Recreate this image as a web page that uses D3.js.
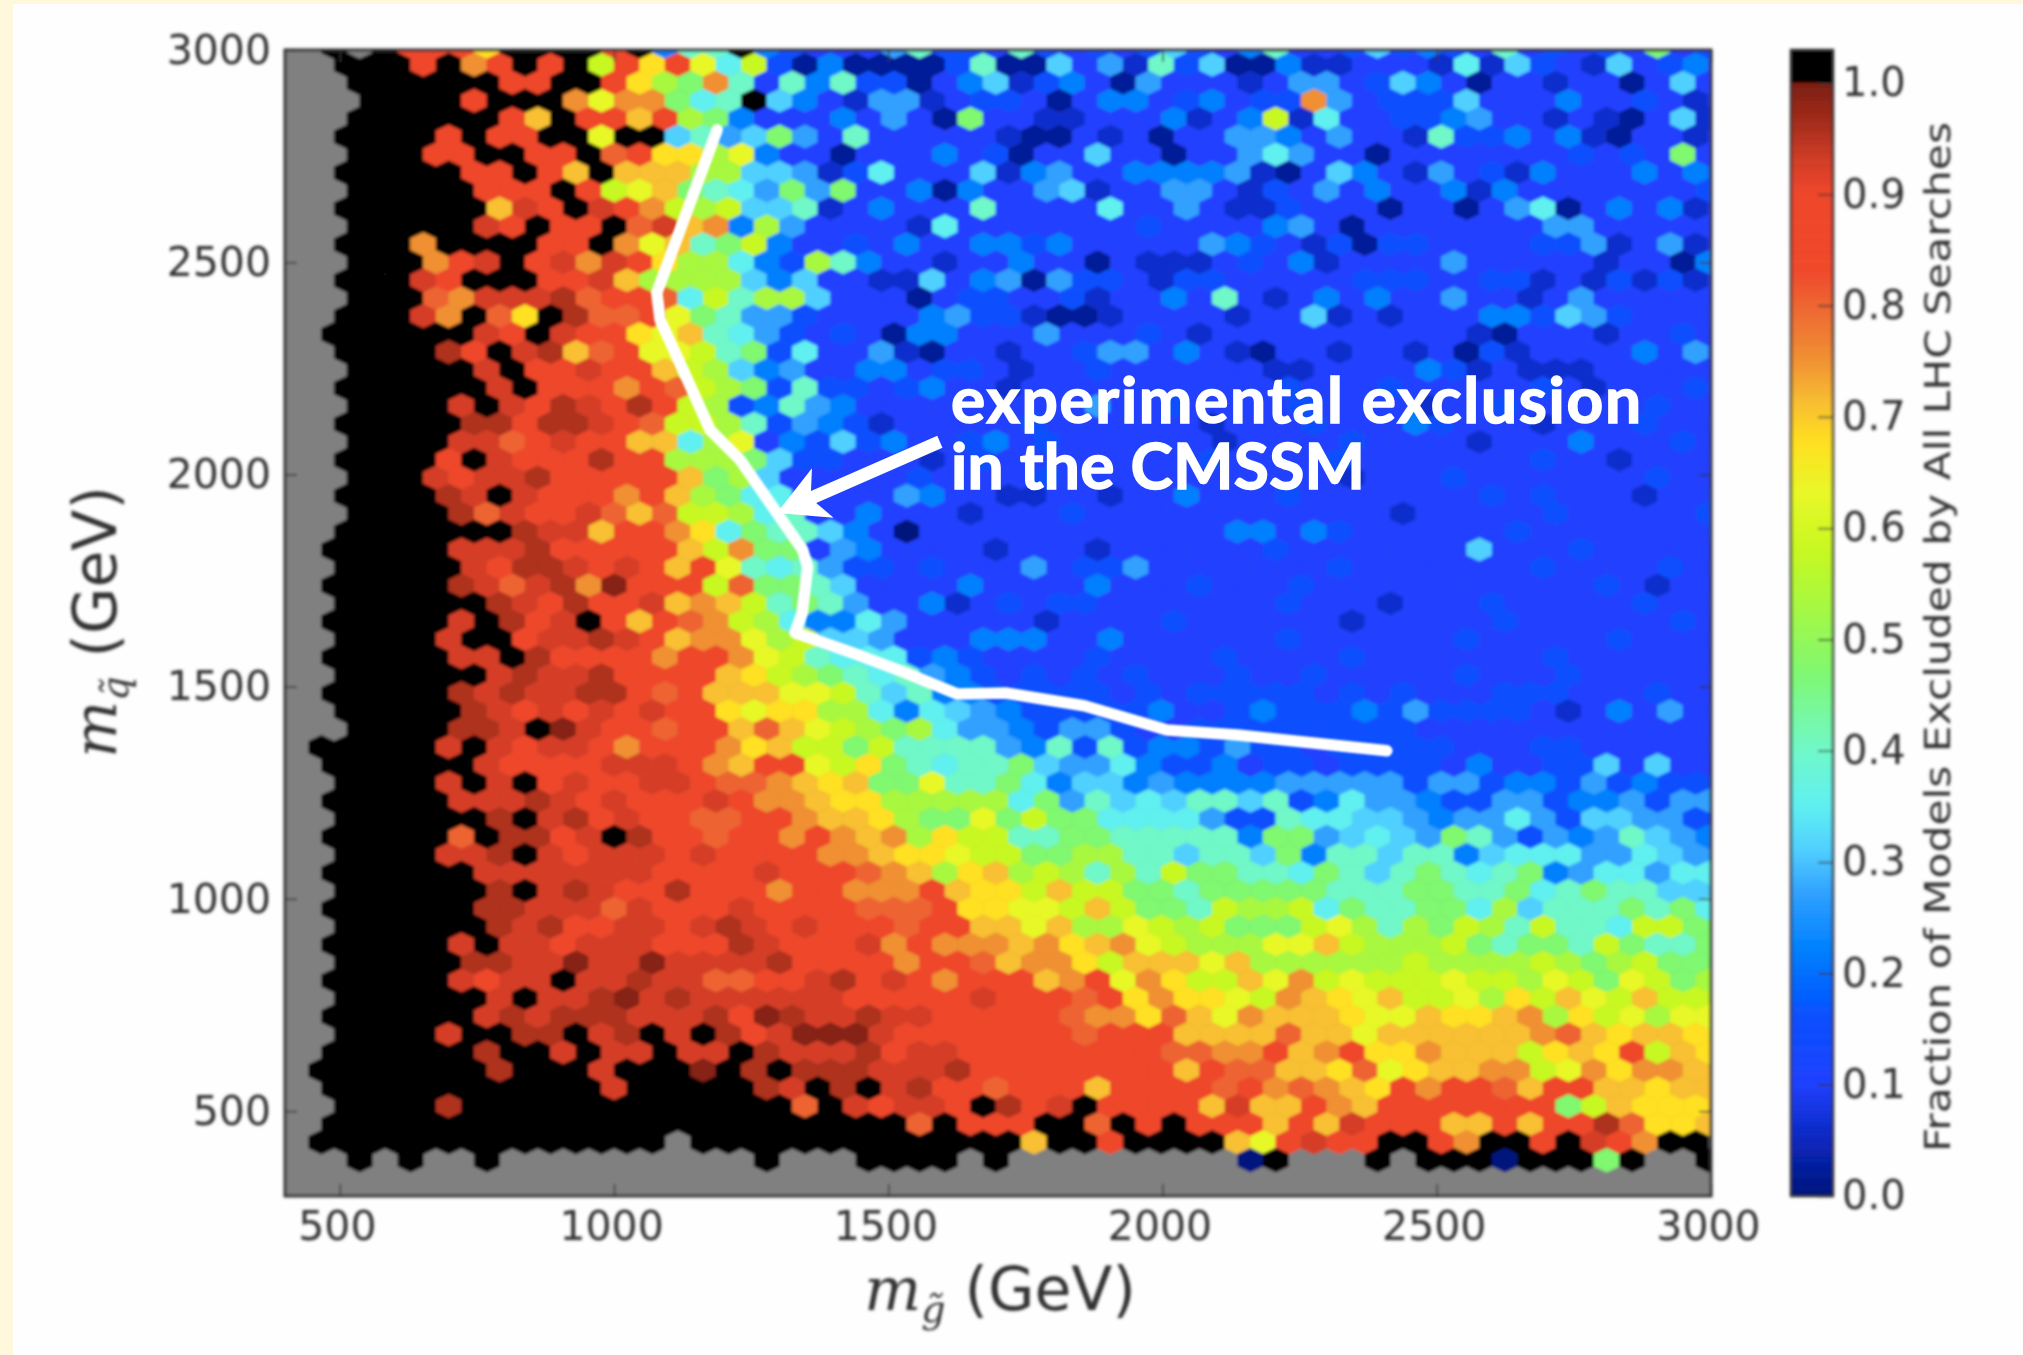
<!DOCTYPE html>
<html>
<head>
<meta charset="utf-8">
<script src="https://d3js.org/d3.v7.min.js"></script>
<style>
  html, body { margin: 0; padding: 0; background: #fefefe; }
  svg { display: block; }
  .tick text { font-family: "DejaVu Sans", sans-serif; fill: #333; }
  .tick line { stroke: #333; stroke-width: 1.5; }
</style>
</head>
<body>
<svg id="chart" width="2023" height="1355"></svg>
<script>
// ======== data
const xTicks = [500, 1000, 1500, 2000, 2500, 3000];
const yTicks = [500, 1000, 1500, 2000, 2500, 3000];
const colorTicks = [0, 0.1, 0.2, 0.3, 0.4, 0.5, 0.6, 0.7, 0.8, 0.9, 1.0];

// one letter per hexagon: "." is an empty bin, "#" is above the top of the colour bar
const levelKeys = ["a", "b", "B", "c", "d", "e", "f", "g", "h", "i", "j", "k", "l", "m", "n", "o", "p", "q", "r", "s", "t", "u", "#"];
const levelValues = [0.0, 0.02, 0.06, 0.10, 0.16, 0.22, 0.27, 0.31, 0.35, 0.40, 0.47, 0.53, 0.58, 0.63, 0.675, 0.71, 0.75, 0.80, 0.87, 0.925, 0.955, 0.99, 1.1];

// rows run from the top of the plot down, in groups of 19 bins
const hexRows = [
  "..#.#rrrn####r#eii# edcccfiddcidcdcdgdc eiccdgdedcicdcdcjcd",
  "..###r#pr#r#lrnrmhl dbebbbbdibbgcfBidgb beBBcccBhBgdcBgcdec",
  "...######rr##rnkjpi cieiddbcegBdecbfccc BcffcdgecbccBccbcgc",
  "...####r###pmppjhi# gecBffBcddcbceecdec ddpfcdddgccceccdcBc",
  "...######ro#rrorkje cccecfcbjccBBccceBc elBhccddefccBcBbcgB",
  "..####r#rr##m##gifg jfcicccccBbbcBcbccf fecfccBiddeceBbccBc",
  "...###rr##rr#qrnnkm eccbcccecdbccgccbcc fhfccbcccccccdcdcjc",
  "..#####rr#ro#oookkg gfBdhcccgBefcceeeef BbcgecBfcdBeccceced",
  "...#####rrr#rlmojih fjfjccebeccfgBccffc BdcfcecceBecccccccd",
  "..######osr#srplklg giBcecccicccchccfcB BdcccbccbcfhbceceBc",
  "...#####sr#rr#qsope kfccccBhcccccccdccc cefcbcccccccffccccc",
  "..###p####rr#pmoijl eccdcecceedecccccfe dcBdbddccccddfBcfBc",
  "...###prs#rspsrnkkh edkieccBcceccbcBBBc dceBccccfcccccBccbe",
  "..###sr###rrsokkkkg egccBBgcefbfddcBddc ccccdddccddBcBdBdBc",
  "...###qpssstqrrqhli kkgcccbcddccdBcceci cBcececcfccBcfccccc",
  "..###sp#qn#tqqrmjif fdccccefddBbbBccccB ccgBcBccceedgfdcccc",
  "..######sr#srrnmoih fdcdcbeecccfcccdcBc cccccccccBbcccBccdc",
  "..####tr#stoqrmmlij dhccfBbccBccdffcecB bccBccBcbdBccccecfc",
  "...#####s#rrsrrolkg efcceecddcBccdccccc cBBccccedBcBBBccccc",
  "..######s#rrrprqlkj diddcdeccBccccccccc cdcccdcccccdcBcccdc",
  "...####s#srtsrtrlkd eifecccccccccfccdcc ccdccccBccdcccccdcc",
  "..#####ttrttsrqllki dfedBcccccdccccccBc ccdcccedcccBcccdccc",
  "...####ssqrsrroohkm cedgdeccdecdccccccB ccccdccccBcccecccdc",
  "..####r#srrrtrrkkkj gddcccBcdccccccccdc cccdcccccccdccBcccc",
  "...###srsstrrrrrojk gcccccdccccdccccccc ccccBcccdcccccccdcc",
  "..####ts#srrrprokjh hccccfeccBBccBccecc cdcccccccdcdcccBccd",
  "...####tqsrrsqoqllk hiccecccBcccdcccccc ccccccBcccccdcccccd",
  "..#######tssorrpnhj iigecacccccccccccce ecedccccccdcccccccd",
  "..#####ssstrrrrrolp jjcfeccccBcccBccccc cdcccccccgcccdccccc",
  "..#####srttsrsrormi hifddcdcccfcddfcccc cccdcccccccdccccdcc",
  "..#####tsqstpurrrlq jjigcccceccccecccdc ccdcccccccccccdcBcc",
  "..######tsrtrrsopol ijifcceBcdcddcccccc cdcccBcccdcccccdccc",
  "..#####s#trs#rorqpl kheehfcccccBccccdcc ccccBcccccdccccccdc",
  "..####s##rsstsroppm klggfccceeecceccccc cdccccccdcccccdcccc",
  "..#####ss#trrrrprrp mlihhhdedccccdccccd ccccdcccccccdcccccc",
  "..######stsstrrrron lkjihifedcdcdcdcccd ccdcccccdcccdcccccc",
  "..#####tstssttrqroo ommligieedddddcdcdd dddcdcdcccdddcccdcc",
  "..#####tsrsrsrsrrnm nnkkhehgfedddddeccd edddedfddddcBcecfcc",
  "...####tts#usrrqrro qomlkjkhffedffdccdd dddddddcccccccccccc",
  ".#####s#srssrprrrpn olljliiiifeidideedf ddcdddddcccddcccccc",
  "..######srrrrsssrpo rrmlnjihiijgffhedde cddcddddceccddgcgcc",
  "..####s#s#rsrrssrqq ponojjmiijheggefeee efffffdffdeedfdeddd",
  "..#####ssstsrsrrrsr pponnkkkkkhjfighgii gidehffeddffdeefdff",
  "..######t#strsrrqqr rpoonkjjmjljjhhhhfd dihhggfeffhfdggffdd",
  "..#####q#ttrs#trrqr rprpopknlliijjiiiii ejjfghgfjifdfefigfe",
  "..####sst#srsssrsrr rrpponnmlljjkkiigii gjeiigiieghhhffhgff",
  "..######sssssssrrrr srrrqpoknoklkikiljj iihjigijihijefhhfhh",
  "..######t#stsrrtrrr prrpppronnlolljjijj jjjiiijjiijhijiiggg",
  "..######ttsssqsrrrs rrrrqqqrnnmmloljjil kklhjiijjhkgiiijijh",
  "..######tstrrssrsts rsrrrqrroomokkmlklj jjlmkikjlkiliihlljj",
  "..#####s#ssrsssrrrt srrrsprpppopnopmlkk kmmolkkkljijjiljiij",
  "..#####ttssussussss trrrrprrqoppnlooomo kkkkkklkkkklkjkljjj",
  "..#####srss#sstssqq rrstrsrprrroprmpnll omplmlllmllkmljmljk",
  "..######s#sstustsss sssrrrrrsrrrqrnpnnm lponmollmknlomlolll",
  "..######ststttssstr utsstssrrrrrqppnqom pooonmmonnopknlmkmm",
  "..####s##tt#st#s#tr suuusrrrrrrrqrrrooo oqoomoooooopqonoonm",
  "..######t##s#ss#ss# tssstrssrrrrrrrrqqp proprnnpooolnonrlon",
  ".#######t###s###u#t #tttssstrrrrrrrrorq qoonqmnoopplmpnppoo",
  "..###########s##### ts#t#strrqrrrorrrrq rpqponrprrqorroonoo",
  "..####t############ #q#srssr#trs#rrrros oorporrrrrrrjlonnno",
  "..################# ######q#rrr##q#r#rr rorosrrroororrtqnno",
  ".##############.### ##########o##r####o mrsrr##rp##r#srp##.",
  "...#.#..#.......... #...####.#......... a#...#.###a###j#..#"
];

// colour stops
const colorStopValues = [0, 0.05, 0.10, 0.16, 0.22, 0.27, 0.31, 0.35, 0.40, 0.47, 0.53, 0.58, 0.63, 0.675, 0.71, 0.75, 0.80, 0.83, 0.90, 0.93, 0.96, 1.0];
const colorStops = ["#00147d", "#0a28c0", "#2040ff", "#0850ff", "#0080ff", "#30a0ff", "#50d0ff", "#60f0f0", "#70f8c8", "#80f870", "#a8f840", "#c8f820", "#e8f828", "#ffe020", "#f8c030", "#f09030", "#ee6430", "#f0482c", "#ee462c", "#d03c26", "#a82e1c", "#7a1c10"];

// the white curve, in GeV
const exclusionX = [1188, 1078, 1084, 1126, 1175, 1230, 1297, 1344, 1353, 1343, 1330, 1436, 1527, 1625, 1714, 1857, 2008, 2137, 2409];
const exclusionY = [2812, 2428, 2364, 2246, 2105, 2034, 1909, 1822, 1782, 1674, 1627, 1579, 1535, 1483, 1485, 1455, 1398, 1386, 1349];
const arrowFrom = [1594, 2077];
const arrowTo = [1297, 1909];
const noteLines = ["experimental exclusion", "in the CMSSM"];
const noteWidths = [690, 414];

// ======== layout
const plot = { left: 285, right: 1711, top: 50, bottom: 1196 };
const bar = { left: 1791, right: 1833 };

const x = d3.scaleLinear().domain([400, 3000]).range([plot.left, plot.right]);
const y = d3.scaleLinear().domain([300, 3000]).range([plot.bottom, plot.top]);
const barY = d3.scaleLinear().domain([0, 1.0296]).range([plot.bottom, plot.top]);
const color = d3.scaleLinear().domain(colorStopValues).range(colorStops);

// hexbin lattice, in GeV
const HEX_X0 = 396.9;
const HEX_DX = 46.4;
const HEX_Y0 = 3007;
const HEX_DY = 42.3;

const levelOf = new Map(levelKeys.map((k, i) => [k, levelValues[i]]));

const cells = [];
hexRows.forEach((row, r) => {
  row.replace(/ /g, "").split("").forEach((key, i) => {
    if (key === ".") return;
    cells.push({
      gx: HEX_X0 + (i + (r % 2) / 2) * HEX_DX,
      gy: HEX_Y0 - r * HEX_DY,
      value: levelOf.get(key)
    });
  });
});

const svg = d3.select("#chart");

// slide background
svg.append("rect").attr("width", 2023).attr("height", 1355).attr("fill", "#fefefe");
svg.append("rect").attr("width", 2023).attr("height", 4).attr("fill", "#fff8dc");
svg.append("rect").attr("width", 13).attr("height", 1355).attr("fill", "#fff8dc");

const defs = svg.append("defs");
defs.append("filter").attr("id", "soften")
  .attr("x", "-5%").attr("y", "-5%").attr("width", "110%").attr("height", "110%")
  .append("feGaussianBlur").attr("stdDeviation", 1.7);
defs.append("filter").attr("id", "softenLine")
  .attr("x", "-5%").attr("y", "-5%").attr("width", "110%").attr("height", "110%")
  .append("feGaussianBlur").attr("stdDeviation", 0.8);
defs.append("clipPath").attr("id", "plotClip").append("rect")
  .attr("x", plot.left).attr("y", plot.top)
  .attr("width", plot.right - plot.left).attr("height", plot.bottom - plot.top);

const soft = svg.append("g").attr("filter", "url(#soften)");

// ======== hexagons
const plotArea = soft.append("g").attr("clip-path", "url(#plotClip)");
plotArea.append("rect")
  .attr("x", plot.left).attr("y", plot.top)
  .attr("width", plot.right - plot.left).attr("height", plot.bottom - plot.top)
  .attr("fill", "#808080");

function hexPath(d) {
  const halfW = (x(d.gx + HEX_DX / 2) - x(d.gx - HEX_DX / 2)) / 2;
  const rowH = y(d.gy - HEX_DY) - y(d.gy);
  const cx = x(d.gx);
  const cy = y(d.gy);
  return "M" + [
    [cx, cy - rowH * 2 / 3],
    [cx + halfW, cy - rowH / 3],
    [cx + halfW, cy + rowH / 3],
    [cx, cy + rowH * 2 / 3],
    [cx - halfW, cy + rowH / 3],
    [cx - halfW, cy - rowH / 3]
  ].join("L") + "Z";
}

plotArea.append("g")
  .selectAll("path")
  .data(cells)
  .join("path")
  .attr("d", hexPath)
  .attr("fill", d => d.value > 1 ? "#000" : color(d.value))
  .attr("stroke", d => d.value > 1 ? "#000" : color(d.value))
  .attr("stroke-width", 0.5);

// ======== axes
const tickFont = 41;

const bottomAxis = soft.append("g")
  .attr("transform", `translate(0,${plot.bottom})`)
  .call(d3.axisBottom(x).tickValues(xTicks).tickSize(-12).tickPadding(15).tickFormat(d3.format("d")));
const leftAxis = soft.append("g")
  .attr("transform", `translate(${plot.left},0)`)
  .call(d3.axisLeft(y).tickValues(yTicks).tickSize(-12).tickPadding(14).tickFormat(d3.format("d")));
const topAxis = soft.append("g")
  .attr("transform", `translate(0,${plot.top})`)
  .call(d3.axisTop(x).tickValues(xTicks).tickSize(-12).tickFormat(""));
const rightAxis = soft.append("g")
  .attr("transform", `translate(${plot.right},0)`)
  .call(d3.axisRight(y).tickValues(yTicks).tickSize(-12).tickFormat(""));

[bottomAxis, leftAxis, topAxis, rightAxis].forEach(a => {
  a.select(".domain").remove();
  a.attr("font-size", null).attr("font-family", null);
  a.selectAll("text").attr("font-size", tickFont);
});
bottomAxis.selectAll("text").attr("dx", -3);

soft.append("rect")
  .attr("x", plot.left).attr("y", plot.top)
  .attr("width", plot.right - plot.left).attr("height", plot.bottom - plot.top)
  .attr("fill", "none").attr("stroke", "#333").attr("stroke-width", 3);

const mathFont = '"DejaVu Serif", serif';
const sansFont = '"DejaVu Sans", sans-serif';

function massLabel(g, tx, ty, rotate, letter) {
  const t = g.append("text")
    .attr("transform", `translate(${tx},${ty}) rotate(${rotate})`)
    .attr("text-anchor", "middle")
    .attr("font-size", 60)
    .attr("font-family", sansFont)
    .attr("fill", "#333");
  t.append("tspan").attr("font-family", mathFont).attr("font-style", "italic").text("m");
  t.append("tspan").attr("font-family", mathFont).attr("font-style", "italic")
    .attr("font-size", 38).attr("dy", 12).text(letter + "\u0303");
  t.append("tspan").attr("dy", -12).text(" (GeV)");
}

massLabel(soft, 1000, 1310, 0, "g");
massLabel(soft, 116, 622, -90, "q");

// ======== colour bar
const barSteps = d3.range(0, 256).map(i => i / 256);
const barArea = soft.append("g");
barArea.selectAll("rect")
  .data(barSteps)
  .join("rect")
  .attr("x", bar.left)
  .attr("width", bar.right - bar.left)
  .attr("y", d => barY(d + 1 / 256))
  .attr("height", d => barY(d) - barY(d + 1 / 256) + 0.6)
  .attr("fill", d => color(d));
barArea.append("rect")
  .attr("x", bar.left).attr("width", bar.right - bar.left)
  .attr("y", barY(1.0296)).attr("height", barY(1) - barY(1.0296))
  .attr("fill", "#000");

const barAxis = soft.append("g")
  .attr("transform", `translate(${bar.right},0)`)
  .call(d3.axisRight(barY).tickValues(colorTicks).tickSize(-15).tickPadding(9).tickFormat(d3.format(".1f")));
barAxis.select(".domain").remove();
barAxis.attr("font-size", null).attr("font-family", null);
barAxis.selectAll("text").attr("font-size", 40);

soft.append("rect")
  .attr("x", bar.left).attr("y", plot.top)
  .attr("width", bar.right - bar.left).attr("height", plot.bottom - plot.top)
  .attr("fill", "none").attr("stroke", "#333").attr("stroke-width", 2.5);

soft.append("text")
  .attr("transform", `translate(1950,637) rotate(-90)`)
  .attr("text-anchor", "middle")
  .attr("font-size", 36)
  .attr("font-family", sansFont)
  .attr("fill", "#333")
  .attr("textLength", 1030)
  .attr("lengthAdjust", "spacingAndGlyphs")
  .text("Fraction of Models Excluded by All LHC Searches");

// ======== white curve, arrow and note
const curve = d3.line().x(d => x(d[0])).y(d => y(d[1]));

svg.append("path")
  .datum(d3.zip(exclusionX, exclusionY))
  .attr("d", curve)
  .attr("fill", "none")
  .attr("stroke", "#fff")
  .attr("stroke-width", 11.5)
  .attr("stroke-linejoin", "round")
  .attr("stroke-linecap", "round")
  .attr("filter", "url(#softenLine)");

const tip = [x(arrowTo[0]), y(arrowTo[1])];
const tail = [x(arrowFrom[0]), y(arrowFrom[1])];
const len = Math.hypot(tail[0] - tip[0], tail[1] - tip[1]);
const ux = (tail[0] - tip[0]) / len;
const uy = (tail[1] - tip[1]) / len;
const at = (along, across) => [tip[0] + ux * along - uy * across, tip[1] + uy * along + ux * across];

svg.append("path")
  .attr("d", "M" + [
    at(0, 0), at(50, 27), at(40, 6.5), at(len, 6.5), at(len, -6.5), at(40, -6.5), at(50, -27)
  ].join("L") + "Z")
  .attr("fill", "#fff");

svg.append("g")
  .selectAll("text")
  .data(noteLines)
  .join("text")
  .attr("x", 951)
  .attr("y", (d, i) => 423 + i * 66)
  .attr("font-family", "Lato, sans-serif")
  .attr("font-weight", 700)
  .attr("font-size", 64)
  .attr("fill", "#fff")
  .attr("stroke", "#fff")
  .attr("stroke-width", 1.5)
  .attr("textLength", (d, i) => noteWidths[i])
  .attr("lengthAdjust", "spacing")
  .text(d => d);
</script>
</body>
</html>
